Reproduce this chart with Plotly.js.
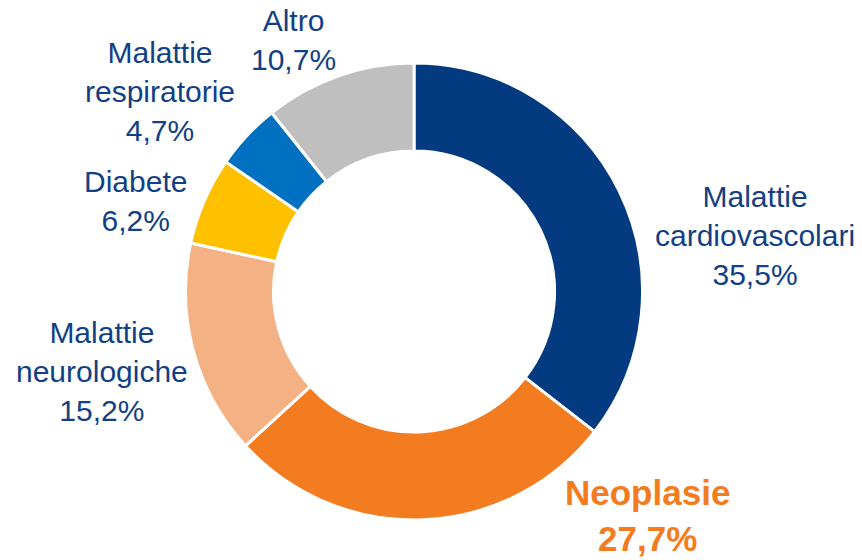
<!DOCTYPE html>
<html>
<head>
<meta charset="utf-8">
<script src="https://cdn.plot.ly/plotly-3.0.1.min.js"></script>
<style>
  html, body { margin: 0; padding: 0; background: #fff; }
  #chart { width: 862px; height: 560px; }
</style>
</head>
<body>
<div id="chart"></div>
<script>
// categories and shares (%)
const categorie = ["Malattie<br>cardiovascolari", "Neoplasie", "Malattie<br>neurologiche", "Diabete", "Malattie<br>respiratorie", "Altro"];
const quote = [35.5, 27.7, 15.2, 6.2, 4.7, 10.7];
const colori = ["#033A80", "#F47C20", "#F3B184", "#FFC000", "#0070C0", "#BFBFBF"];

// where each label sits (paper coords)
const posLabel = [
  {x: 0.876, y: 0.579},
  {x: 0.751, y: 0.079},
  {x: 0.118, y: 0.336},
  {x: 0.157, y: 0.641},
  {x: 0.186, y: 0.837},
  {x: 0.341, y: 0.929}
];

function fmt(v){
  return v.toFixed(1).replace(".", ",") + "%";
}

const annotations = categorie.map(function(c, i){
  const evid = (i === 1);
  return {
    text: evid ? "<b>" + c + "<br>" + fmt(quote[i]) + "</b>" : c + "<br>" + fmt(quote[i]),
    x: posLabel[i].x, y: posLabel[i].y,
    xref: "paper", yref: "paper",
    xanchor: "center", yanchor: "middle",
    showarrow: false,
    align: "center",
    font: {
      family: "Liberation Sans, Arial, sans-serif",
      size: evid ? 35 : 30,
      color: evid ? "#F47C20" : "#123F85"
    }
  };
});

const torta = {
  type: "pie",
  labels: categorie,
  values: quote,
  hole: 0.615,
  sort: false,
  direction: "clockwise",
  rotation: 0,
  textinfo: "none",
  hoverinfo: "label+percent",
  marker: {colors: colori, line: {color: "#FFFFFF", width: 3}},
  domain: {x: [0.2152, 0.7454], y: [0.0714, 0.8875]}
};

const layout = {
  width: 862,
  height: 560,
  margin: {l: 0, r: 0, t: 0, b: 0},
  showlegend: false,
  paper_bgcolor: "#FFFFFF",
  annotations: annotations
};

Plotly.newPlot("chart", [torta], layout, {displayModeBar: false, staticPlot: true});
</script>
</body>
</html>
